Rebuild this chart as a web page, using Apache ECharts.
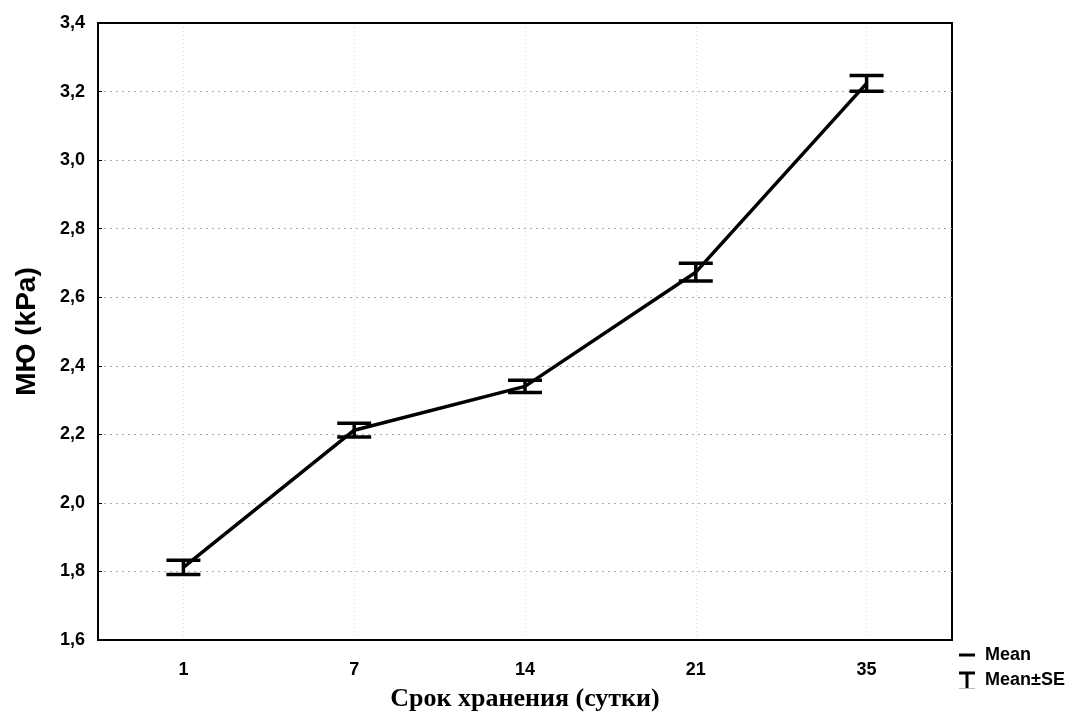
<!DOCTYPE html>
<html lang="ru">
<head>
    <meta charset="UTF-8">
    <title>МЮ (kPa)</title>
    <script src="https://cdn.jsdelivr.net/npm/echarts@6/dist/echarts.min.js"></script>
    <style>
        html,body{margin:0;padding:0;background:#fff;}
        #main{width:1088px;height:726px;}
    </style>
</head>
<body>
<div id="main"></div>
<script>
    // данные
    var days = ['1', '7', '14', '21', '35'];
    var meanValues = [1.812, 2.212, 2.340, 2.673, 3.224];
    var seValues = [0.021, 0.020, 0.018, 0.026, 0.023];
    var yTicks = [1.6, 1.8, 2.0, 2.2, 2.4, 2.6, 2.8, 3.0, 3.2, 3.4];

    var errorData = [];
    for (var i = 0; i < days.length; i++) {
        errorData.push([i, meanValues[i] - seValues[i], meanValues[i] + seValues[i]]);
    }

    var chart = echarts.init(document.getElementById('main'));

    var option = {
        animation: false,
        backgroundColor: '#fff',
        grid: {
            left: 98, top: 23, right: 136, bottom: 86,
            show: true, borderColor: '#000', borderWidth: 2
        },
        xAxis: [{
            type: 'category',
            data: days,
            boundaryGap: true,
            name: 'Срок хранения (сутки)',
            nameLocation: 'middle',
            nameGap: 46,
            nameTextStyle: {fontFamily: 'Liberation Serif', fontWeight: 'bold', fontSize: 26, color: '#000'},
            axisLine: {lineStyle: {color: '#000', width: 2}},
            axisTick: {inside: true, alignWithLabel: true, length: 4, lineStyle: {color: '#000'}},
            axisLabel: {margin: 21, fontFamily: 'Liberation Sans', fontWeight: 'bold', fontSize: 18, color: '#000'},
            splitLine: {show: true, alignWithLabel: true, lineStyle: {color: '#ddd', type: [1, 3]}}
        }, {
            // верхняя рамка
            type: 'category',
            data: days,
            position: 'top',
            axisLine: {show: true, lineStyle: {color: '#000', width: 2}},
            axisTick: {show: false},
            axisLabel: {show: false},
            splitLine: {show: false}
        }],
        yAxis: {
            type: 'value',
            min: yTicks[0],
            max: yTicks[yTicks.length - 1],
            interval: 0.2,
            name: 'МЮ (kPa)',
            nameLocation: 'middle',
            nameGap: 57,
            nameTextStyle: {fontFamily: 'Liberation Sans', fontWeight: 'bold', fontSize: 28, color: '#000'},
            axisLine: {show: true, lineStyle: {color: '#000', width: 2}},
            axisTick: {show: true, inside: true, length: 4, lineStyle: {color: '#000'}},
            axisLabel: {
                margin: 13, fontFamily: 'Liberation Sans', fontWeight: 'bold', fontSize: 18, color: '#000',
                formatter: function (v) { return v.toFixed(1).replace('.', ','); }
            },
            splitLine: {show: true, lineStyle: {color: '#aaa', type: [2, 4]}}
        },
        series: [
            {
                name: 'Mean',
                type: 'line',
                data: meanValues,
                symbol: 'none',
                lineStyle: {color: '#000', width: 3.5},
                z: 3
            },
            {
                name: 'Mean±SE',
                type: 'custom',
                data: errorData,
                z: 4,
                renderItem: function (params, api) {
                    var x = api.value(0);
                    var lo = api.coord([x, api.value(1)]);
                    var hi = api.coord([x, api.value(2)]);
                    var half = 17;
                    var st = {stroke: '#000', lineWidth: 3.5};
                    return {
                        type: 'group',
                        children: [
                            {type: 'line', shape: {x1: lo[0], y1: lo[1], x2: hi[0], y2: hi[1]}, style: st},
                            {type: 'line', shape: {x1: lo[0] - half, y1: lo[1], x2: lo[0] + half, y2: lo[1]}, style: st},
                            {type: 'line', shape: {x1: hi[0] - half, y1: hi[1], x2: hi[0] + half, y2: hi[1]}, style: st}
                        ]
                    };
                }
            }
        ],
        graphic: [
            // легенда
            {type: 'line', shape: {x1: 959, y1: 655, x2: 975, y2: 655}, style: {stroke: '#000', lineWidth: 3}},
            {type: 'text', left: 985, top: 646, style: {text: 'Mean', font: 'bold 18px "Liberation Sans"', fill: '#000'}},
            {type: 'line', shape: {x1: 959, y1: 673, x2: 975, y2: 673}, style: {stroke: '#000', lineWidth: 3}},
            {type: 'line', shape: {x1: 967, y1: 673, x2: 967, y2: 688}, style: {stroke: '#000', lineWidth: 3}},
            {type: 'line', shape: {x1: 959, y1: 688.5, x2: 975, y2: 688.5}, style: {stroke: '#bbb', lineWidth: 1}},
            {type: 'text', left: 985, top: 671, style: {text: 'Mean±SE', font: 'bold 18px "Liberation Sans"', fill: '#000'}}
        ]
    };
    chart.setOption(option);
</script>
</body>
</html>
